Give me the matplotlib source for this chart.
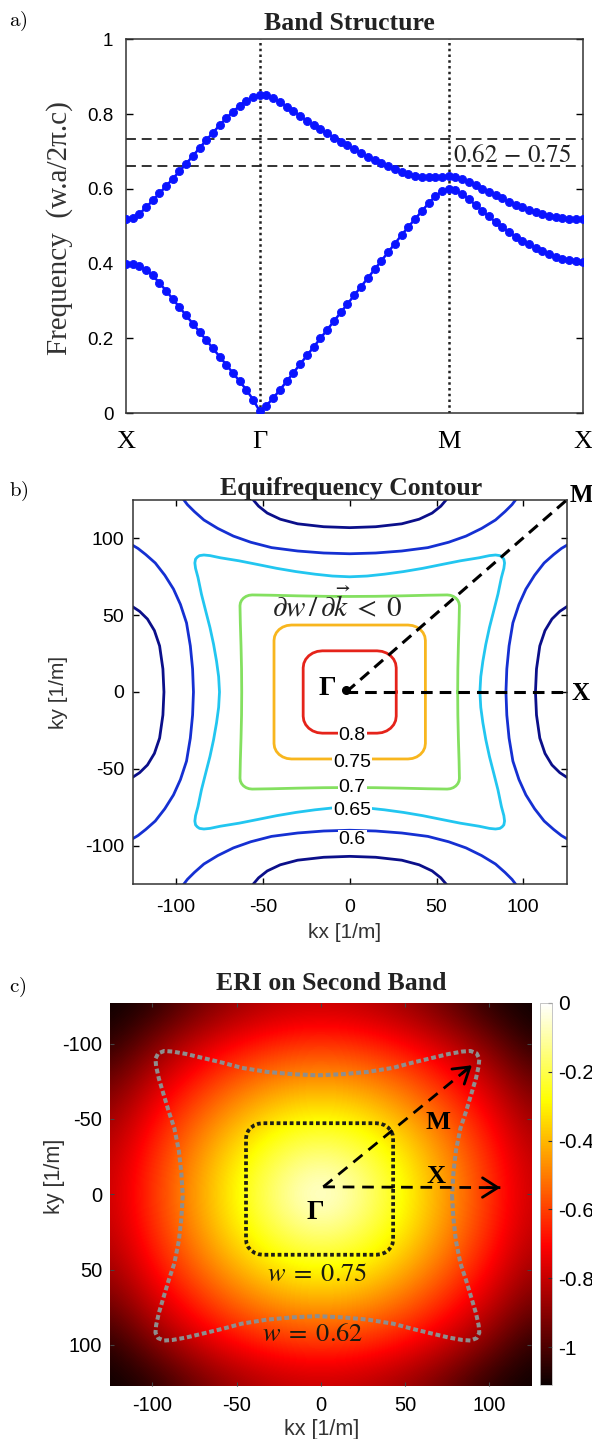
import numpy as np
import matplotlib
matplotlib.use('Agg')
import matplotlib.pyplot as plt

plt.rcParams['axes.unicode_minus'] = False
plt.rcParams['font.family'] = ['Liberation Sans', 'DejaVu Sans']

W, H = 592, 1439
fig = plt.figure(figsize=(W / 100, H / 100), dpi=100)
SERIF = ['Liberation Serif', 'DejaVu Serif']
SANS = ['Liberation Sans', 'DejaVu Sans']


def ax_px(l, t, r, b):
    return fig.add_axes([l / W, 1 - b / H, (r - l) / W, (b - t) / H])


def fpx(x, y):
    return x / W, 1 - y / H


# ---------------- data: panel a (band structure) ----------------
path_labels = ['X', 'Γ', 'M', 'X']
seg_lengths = [0.5, 0.7071, 0.5]          # X-Γ, Γ-M, M-X (units of 2π/a)
seg_points = [21, 29, 21]

band1_XG = [0.400, 0.399, 0.393, 0.383, 0.368, 0.348, 0.327, 0.305, 0.283, 0.261,
            0.239, 0.217, 0.195, 0.173, 0.151, 0.129, 0.107, 0.085, 0.062, 0.036, 0.005]
band1_GM = [0.020, 0.040, 0.062, 0.085, 0.108, 0.131, 0.154, 0.177, 0.200, 0.223,
            0.246, 0.269, 0.292, 0.315, 0.338, 0.361, 0.384, 0.407, 0.430, 0.453,
            0.476, 0.498, 0.519, 0.540, 0.561, 0.580, 0.594, 0.600]
band1_MX = [0.596, 0.585, 0.572, 0.557, 0.541, 0.526, 0.511, 0.497, 0.484, 0.472,
            0.461, 0.451, 0.442, 0.433, 0.425, 0.418, 0.413, 0.409, 0.406, 0.405]

band2_XG = [0.518, 0.522, 0.533, 0.550, 0.569, 0.588, 0.607, 0.627, 0.647, 0.667,
            0.688, 0.709, 0.730, 0.750, 0.770, 0.789, 0.806, 0.822, 0.836, 0.846, 0.852]
band2_GM = [0.850, 0.843, 0.832, 0.820, 0.808, 0.795, 0.782, 0.770, 0.759, 0.748,
            0.737, 0.726, 0.716, 0.706, 0.696, 0.686, 0.677, 0.668, 0.660, 0.652,
            0.645, 0.639, 0.635, 0.632, 0.631, 0.631, 0.632, 0.635]
band2_MX = [0.632, 0.625, 0.617, 0.609, 0.600, 0.592, 0.583, 0.574, 0.565, 0.557,
            0.550, 0.543, 0.537, 0.532, 0.528, 0.525, 0.522, 0.520, 0.519, 0.518]

window_lines = [0.734, 0.660]
yticks_a = [0, 0.2, 0.4, 0.6, 0.8, 1]
yticklabels_a = ['0', '0.2', '0.4', '0.6', '0.8', '1']

# ---------------- data: panel b (equifrequency contours) ----------------
# closed contours: first-octant points (kx, ky) from the kx axis to the diagonal
closed_levels = {
    0.8:  ([26.8, 26.8, 26.8, 26.43, 25.33, 23.58],
           [0.0, 8.0, 15.8, 18.65, 21.3, 23.58]),
    0.75: ([43.6, 43.6, 43.6, 43.6, 43.26, 42.26, 40.67],
           [0.0, 12.0, 24.0, 33.6, 36.19, 38.6, 40.67]),
    0.7:  ([62.2, 62.3, 62.6, 63.0, 63.2, 62.96, 62.26, 61.15],
           [0.0, 15.0, 30.0, 45.0, 56.2, 58.0, 59.7, 61.15]),
    0.65: ([75.0, 75.5, 76.7, 78.4, 80.5, 83.0, 85.4, 87.4, 88.8, 89.2, 88.8, 87.8],
           [0.0, 10.0, 20.0, 31.0, 42.0, 53.0, 63.7, 74.6, 80.5, 84.0, 86.5, 87.8]),
}
# open arcs around the X points: upper half of the arc around (125, 0)
arc_levels = {
    0.6:  ([90.0, 90.5, 91.8, 94.0, 97.5, 101.5, 106.5, 112.0, 117.5, 122.0, 125.0],
           [0.0, 15.0, 30.0, 45.0, 57.0, 67.0, 76.0, 84.0, 89.5, 93.5, 95.5]),
    0.55: ([107.0, 107.6, 109.5, 112.5, 116.5, 121.0, 125.0],
           [0.0, 15.0, 30.0, 40.0, 47.5, 52.5, 55.5]),
}
level_colors = {0.8: '#e5231a', 0.75: '#f8b61e', 0.7: '#84e060', 0.65: '#22c6f0',
                0.6: '#1530d2', 0.55: '#0b0f8a'}
label_levels = ['0.8', '0.75', '0.7', '0.65', '0.6']
label_ky = [-28.0, -45.8, -62.0, -77.3, -96.0]
ticks_k = [-100, -50, 0, 50, 100]

# ---------------- data: panel c (ERI on second band) ----------------
eri_axis = [0, 25, 50, 75, 100, 125]     # quadrant grid (|kx|, |ky|)
eri_quadrant = [
    [0.000, -0.125, -0.278, -0.444, -0.618, -0.800],
    [-0.125, -0.187, -0.316, -0.472, -0.641, -0.818],
    [-0.278, -0.316, -0.415, -0.548, -0.703, -0.871],
    [-0.444, -0.472, -0.548, -0.662, -0.800, -0.955],
    [-0.618, -0.641, -0.703, -0.800, -0.922, -1.064],
    [-0.800, -0.818, -0.871, -0.955, -1.064, -1.110],
]
w075_oct = ([43.7, 43.7, 43.7, 43.7, 43.36, 42.36, 40.77],
            [0.0, 12.0, 24.0, 33.7, 36.29, 38.7, 40.77])
w075_center = (-0.7, -3.5)
w062_oct = ([80.0, 80.8, 82.3, 85.0, 88.3, 91.0, 94.2, 95.8, 96.2, 94.6],
            [0.0, 15.0, 30.0, 45.0, 56.0, 66.0, 78.0, 86.0, 91.0, 94.6])
w062_center = (-2.0, 1.0)
gamma_c = (1.5, -4.9)
tip_M = (89.8, -85.7)
tip_X = (106.7, -4.4)
cbar_ticks = [0, -0.2, -0.4, -0.6, -0.8, -1]
cbar_labels = ['0', '-0.2', '-0.4', '-0.6', '-0.8', '-1']


def closed_from_octant(xs, ys, c=(0.0, 0.0)):
    x = np.asarray(xs, float)
    y = np.asarray(ys, float)
    qx = np.concatenate([x, y[::-1][1:]])
    qy = np.concatenate([y, x[::-1][1:]])
    X = np.concatenate([qx, -qx[::-1][1:], -qx[1:], qx[::-1][1:]])
    Y = np.concatenate([qy, qy[::-1][1:], -qy[1:], -qy[::-1][1:]])
    return X + c[0], Y + c[1]


def arcs_from_half(xs, ys):
    x = np.asarray(xs, float)
    y = np.asarray(ys, float)
    X = np.concatenate([x[::-1], x[1:]])
    Y = np.concatenate([-y[::-1], y[1:]])
    return [(X, Y), (-X, Y), (Y, X), (Y, -X)]


# ======================= panel a =======================
axa = ax_px(126, 39.3, 582.5, 413)
k_parts = []
start = 0.0
for L, n in zip(seg_lengths, seg_points):
    pts = start + np.linspace(0, L, n)
    k_parts.append(pts if not k_parts else pts[1:])
    start += L
k = np.concatenate(k_parts)
band1 = np.array(band1_XG + band1_GM + band1_MX)
band2 = np.array(band2_XG + band2_GM + band2_MX)
node_k = np.concatenate([[0], np.cumsum(seg_lengths)])

for yv in window_lines:
    axa.axhline(yv, color='#222222', lw=1.3, ls=(0, (5.5, 3.2)), zorder=1)
for kv in node_k[1:3]:
    axa.axvline(kv, color='#222222', lw=1.8, ls=(0, (1, 1.3)), zorder=1)
for band in (band1, band2):
    axa.plot(k, band, '-o', color='#0a14ff', lw=1.8, ms=5.8, mew=0.6,
             mec='#0a14ff', mfc='#0a14ff', zorder=3)
axa.set_xlim(node_k[0], node_k[-1])
axa.set_ylim(0, 1)
axa.set_xticks(node_k)
axa.set_xticklabels(path_labels, fontsize=19, family=SERIF)
axa.set_yticks(yticks_a)
axa.set_yticklabels(yticklabels_a, fontsize=13.5, family=SANS)
axa.tick_params(axis='x', length=0, pad=13)
axa.tick_params(axis='y', direction='in', length=5, width=1, right=True, pad=9)
for s in axa.spines.values():
    s.set_linewidth(1.1)
    s.set_color('#333333')
axa.text(1.224, 0.672, r'$0.62\,-\,0.75$', fontsize=18, math_fontfamily='stix',
         ha='left', va='baseline', color='#222222')
fig.text(*fpx(60, 228.5), 'Frequency  (w.a/2π.c)', rotation=90, fontsize=21,
         family=SERIF, ha='center', va='center', color='#333333')
fig.text(*fpx(349, 30), 'Band Structure', fontsize=18.5, family=SERIF,
         weight='bold', ha='center', va='baseline', color='#222222')
fig.text(*fpx(9, 21.5), r'$\mathrm{a)}$', fontsize=15, math_fontfamily='cm',
         ha='left', va='center')

# ======================= panel b =======================
axb = ax_px(132.7, 500, 566.7, 884)
for lev, (xs, ys) in arc_levels.items():
    for X, Y in arcs_from_half(xs, ys):
        axb.plot(X, Y, color=level_colors[lev], lw=2.0, zorder=2)
for lev, (xs, ys) in closed_levels.items():
    X, Y = closed_from_octant(xs, ys)
    axb.plot(X, Y, color=level_colors[lev], lw=2.0, zorder=2)
for txt, yv in zip(label_levels, label_ky):
    axb.text(1.5, yv, txt, fontsize=14, ha='center', va='center', zorder=4,
             bbox=dict(boxstyle='square,pad=0.05', fc='white', ec='none'))
axb.plot([-2, 125], [0, 0], color='black', lw=2.2, ls=(0, (3.8, 2.3)), zorder=3)
axb.plot([-2, 125], [0, 125], color='black', lw=2.2, ls=(0, (3.8, 2.3)), zorder=3)
axb.plot([-2], [1], 'o', color='black', ms=5.5, zorder=4)
axb.text(-13, 2.4, 'Γ', fontsize=20, family=SERIF, weight='bold',
         ha='center', va='center', zorder=4)
axb.text(-7, 56, r'$\partial w\,/\,\partial \vec{k}\;<\;0$', fontsize=21,
         math_fontfamily='stix', ha='center', va='center', color='#222222', zorder=4)
axb.set_xlim(-125, 125)
axb.set_ylim(-125, 125)
axb.set_xticks(ticks_k)
axb.set_yticks(ticks_k)
axb.set_xticklabels([str(t) for t in ticks_k], fontsize=14)
axb.set_yticklabels([str(t) for t in ticks_k], fontsize=14)
axb.tick_params(direction='in', length=4, width=1, top=True, right=True)
axb.tick_params(axis='x', pad=11)
axb.tick_params(axis='y', pad=6)
for s in axb.spines.values():
    s.set_linewidth(1.1)
    s.set_color('#333333')
fig.text(*fpx(58.5, 692), 'ky [1/m]', rotation=90, fontsize=15, ha='center',
         va='center', color='#333333')
fig.text(*fpx(345, 932.5), 'kx [1/m]', fontsize=15, ha='center', va='center',
         color='#333333')
fig.text(*fpx(351, 495), 'Equifrequency Contour', fontsize=18.5, family=SERIF,
         weight='bold', ha='center', va='baseline', color='#222222')
fig.text(*fpx(570, 496), 'M', fontsize=18, family=SERIF, weight='bold',
         ha='left', va='center')
fig.text(*fpx(572, 693.5), 'X', fontsize=18, family=SERIF, weight='bold',
         ha='left', va='center')
fig.text(*fpx(9, 491), r'$\mathrm{b)}$', fontsize=15, math_fontfamily='cm',
         ha='left', va='center')

# ======================= panel c =======================
axc = ax_px(110, 1002.5, 531.5, 1386)
q = np.array(eri_quadrant)
row = np.concatenate([q[:, :0:-1], q], axis=1)
Z = np.concatenate([row[:0:-1, :], row], axis=0)
ax_vals = np.array(eri_axis, float)
step = ax_vals[1] - ax_vals[0]
ext = ax_vals[-1] + step / 2
im = axc.imshow(Z, cmap='hot', vmin=-1.11, vmax=0, interpolation='bicubic',
                extent=[-ext, ext, ext, -ext], aspect='auto', zorder=0)
Xg, Yg = closed_from_octant(*w062_oct, c=w062_center)
axc.plot(Xg, Yg, color='#8e8e8e', lw=2.9, ls=(0, (1.2, 0.7)), zorder=2)
Xb, Yb = closed_from_octant(*w075_oct, c=w075_center)
axc.plot(Xb, Yb, color='#1e1e16', lw=2.7, ls=(0, (1.0, 0.75)), zorder=2)
for tip in (tip_M, tip_X):
    axc.plot([gamma_c[0], tip[0]], [gamma_c[1], tip[1]], color='black', lw=2.0,
             ls=(0, (4.2, 2.8)), zorder=3)
    d = np.array(tip) - np.array(gamma_c)
    d = d / np.hypot(*d)
    axc.annotate('', xy=tip, xytext=(tip[0] - 8 * d[0], tip[1] - 8 * d[1]),
                 arrowprops=dict(arrowstyle='->,head_length=0.55,head_width=0.35',
                                 lw=2.0, color='black', mutation_scale=20,
                                 shrinkA=0, shrinkB=0), zorder=3)
axc.text(69.5, -48, 'M', fontsize=19, family=SERIF, weight='bold',
         ha='center', va='center', zorder=4)
axc.text(68.5, -12, 'X', fontsize=19, family=SERIF, weight='bold',
         ha='center', va='center', zorder=4)
axc.text(-3.4, 12, 'Γ', fontsize=20, family=SERIF, weight='bold',
         ha='center', va='center', zorder=4)
axc.text(-2.3, 53, r'$w\;=\;0.75$', fontsize=19, math_fontfamily='stix',
         ha='center', va='center', color='#1a1a10', zorder=4)
axc.text(-4.6, 93, r'$w\;=\;0.62$', fontsize=19, math_fontfamily='stix',
         ha='center', va='center', color='#1a1a10', zorder=4)
axc.set_xlim(-125.2, 125.2)
axc.set_ylim(127.4, -127.4)
axc.set_xticks(ticks_k)
axc.set_yticks(ticks_k)
axc.set_xticklabels([str(t) for t in ticks_k], fontsize=14.5)
axc.set_yticklabels([str(t) for t in ticks_k], fontsize=14.5)
axc.tick_params(direction='in', length=3, width=0.8, top=True, right=True,
                color='#444444')
axc.tick_params(axis='x', pad=7.5)
axc.tick_params(axis='y', pad=5.5)
for s in axc.spines.values():
    s.set_visible(False)
cax = ax_px(540.3, 1003, 551.7, 1385)
cb = fig.colorbar(im, cax=cax, ticks=cbar_ticks)
cb.ax.set_yticklabels(cbar_labels, fontsize=15)
cb.ax.tick_params(direction='in', length=3, width=0.8, pad=4.5, color='#333333')
cb.outline.set_linewidth(0.6)
cb.outline.set_edgecolor('#bbbbbb')
fig.text(*fpx(54.7, 1176), 'ky [1/m]', rotation=90, fontsize=15.5, ha='center',
         va='center', color='#333333')
fig.text(*fpx(321.6, 1429), 'kx [1/m]', fontsize=15.5, ha='center', va='center',
         color='#333333')
fig.text(*fpx(331, 990), 'ERI on Second Band', fontsize=18.5, family=SERIF,
         weight='bold', ha='center', va='baseline', color='#222222')
fig.text(*fpx(9, 987), r'$\mathrm{c)}$', fontsize=15, math_fontfamily='cm',
         ha='left', va='center')

fig.savefig('out.png', dpi=100)
